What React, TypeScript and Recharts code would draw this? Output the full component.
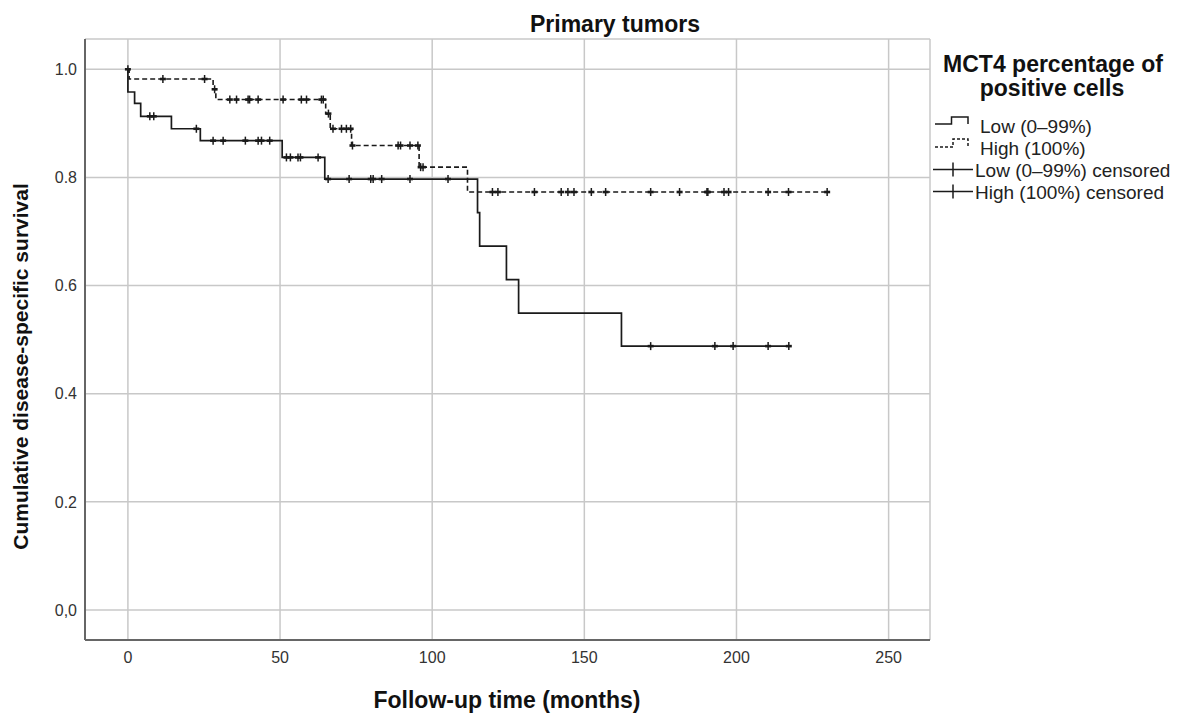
import React from 'react';
import { ComposedChart, Line, Scatter, XAxis, YAxis, CartesianGrid } from 'recharts';

// ---- Data ----
const lowStepTimes = [0, 0, 2.2, 4.2, 14.3, 23.8, 50.7, 64.7, 114.9, 115.6, 124.4, 128.4, 162.2, 217.2];
const lowStepSurvival = [1.0, 0.958, 0.937, 0.913, 0.89, 0.868, 0.837, 0.797, 0.735, 0.673, 0.611, 0.549, 0.488, 0.488];

const highStepTimes = [0, 0.4, 28.0, 28.9, 65.0, 66.5, 73.5, 95.7, 111.6, 229.8];
const highStepSurvival = [1.0, 0.982, 0.963, 0.944, 0.918, 0.89, 0.859, 0.819, 0.773, 0.773];

const lowCensorTimes = [7.2, 8.5, 22.5, 28.0, 31.3, 38.6, 42.8, 43.9, 46.6, 52.1, 53.4, 55.9, 56.7, 62.5, 65.8, 72.7, 79.8, 80.6, 83.4, 92.7, 105.2, 171.8, 192.9, 198.9, 210.4, 217.2];
const highCensorTimes = [0, 11.5, 25.2, 28.5, 33.5, 35.7, 39.5, 40.0, 42.8, 51.0, 57.0, 58.7, 63.6, 64.2, 65.9, 67.4, 70.2, 71.8, 73.2, 73.8, 88.8, 89.6, 92.7, 95.3, 96.2, 97.0, 119.8, 121.6, 133.6, 142.4, 144.6, 146.6, 152.3, 157.0, 171.8, 181.3, 190.3, 190.6, 195.9, 197.4, 210.4, 217.1, 229.8];

const xTicks = [0, 50, 100, 150, 200, 250];
const yTicks = [0, 0.2, 0.4, 0.6, 0.8, 1.0];

const chartTitle = 'Primary tumors';
const xTitle = 'Follow-up time (months)';
const yTitle = 'Cumulative disease-specific survival';
const legendTitleLines = ['MCT4 percentage of', 'positive cells'];
const legendLabels = ['Low (0\u201399%)', 'High (100%)', 'Low (0\u201399%) censored', 'High (100%) censored'];

// ---- Derived tables ----
const toSteps = (times: number[], surv: number[]) => times.map((t, i) => ({ t, s: surv[i] }));
const survivalAt = (times: number[], surv: number[], t: number) => {
  let v = surv[0];
  for (let i = 0; i < times.length; i++) {
    if (times[i] <= t) v = surv[i];
  }
  return v;
};
const lowData = toSteps(lowStepTimes, lowStepSurvival);
const highData = toSteps(highStepTimes, highStepSurvival);
const lowCensor = lowCensorTimes.map((t) => ({ t, s: survivalAt(lowStepTimes, lowStepSurvival, t) }));
const highCensor = highCensorTimes.map((t) => ({ t, s: survivalAt(highStepTimes, highStepSurvival, t) }));

const FONT = '"Liberation Sans", Arial, sans-serif';
const INK = '#1a1a1a';

const CensorMark = (props: any) => {
  const { cx, cy } = props;
  if (cx == null || cy == null) return <g />;
  return (
    <g>
      <line x1={cx} y1={cy - 4} x2={cx} y2={cy + 4} stroke={INK} strokeWidth={1.5} />
      <line x1={cx - 3} y1={cy} x2={cx + 3} y2={cy} stroke={INK} strokeWidth={2.6} />
    </g>
  );
};

const fmtY = (v: number) => (v === 0 ? '0,0' : v.toFixed(1));

export default function App() {
  return (
    <div style={{ position: 'absolute', left: 0, top: 0, width: 1177, height: 719, background: '#fff', fontFamily: FONT }}>
      <ComposedChart width={1177} height={719} margin={{ top: 39, right: 247, bottom: 4, left: 0 }}>
        <CartesianGrid stroke="#c8c8c8" strokeWidth={1.5} />
        <XAxis
          type="number"
          dataKey="t"
          domain={[-14.1, 263.6]}
          ticks={xTicks}
          interval={0}
          allowDataOverflow
          height={75}
          tickSize={0}
          tickMargin={12}
          tickLine={false}
          axisLine={{ stroke: '#666', strokeWidth: 2 }}
          tick={{ fill: '#333', fontSize: 16, fontFamily: FONT }}
        />
        <YAxis
          type="number"
          dataKey="s"
          domain={[-0.0555, 1.056]}
          ticks={yTicks}
          interval={0}
          allowDataOverflow
          width={85}
          tickSize={0}
          tickMargin={8}
          tickLine={false}
          tickFormatter={fmtY}
          axisLine={{ stroke: '#666', strokeWidth: 2 }}
          tick={{ fill: '#333', fontSize: 16, fontFamily: FONT }}
        />
        <Line data={lowData} dataKey="s" type="stepAfter" stroke={INK} strokeWidth={1.7} dot={false} activeDot={false} isAnimationActive={false} />
        <Line data={highData} dataKey="s" type="stepAfter" stroke={INK} strokeWidth={1.6} strokeDasharray="5 3" dot={false} activeDot={false} isAnimationActive={false} />
        <Scatter data={lowCensor} dataKey="s" shape={CensorMark} isAnimationActive={false} />
        <Scatter data={highCensor} dataKey="s" shape={CensorMark} isAnimationActive={false} />
      </ComposedChart>
      <svg width={1177} height={719} style={{ position: 'absolute', left: 0, top: 0, pointerEvents: 'none' }}>
        <text x={615} y={32} textAnchor="middle" fontSize={23} fontWeight="bold" fill="#111" fontFamily={FONT}>{chartTitle}</text>
        <text x={507} y={708} textAnchor="middle" fontSize={23} fontWeight="bold" fill="#111" fontFamily={FONT}>{xTitle}</text>
        <text x={28} y={366.5} textAnchor="middle" fontSize={21} fontWeight="bold" fill="#111" fontFamily={FONT} transform="rotate(-90 28 366.5)">{yTitle}</text>
        <text x={1053} y={72} textAnchor="middle" fontSize={23} fontWeight="bold" fill="#111" fontFamily={FONT}>{legendTitleLines[0]}</text>
        <text x={1052} y={96} textAnchor="middle" fontSize={23} fontWeight="bold" fill="#111" fontFamily={FONT}>{legendTitleLines[1]}</text>
        <path d="M935 124 H951.5 V117 H968 V124" fill="none" stroke={INK} strokeWidth={1.5} />
        <text x={980} y={133} fontSize={19} fill="#222" fontFamily={FONT}>{legendLabels[0]}</text>
        <path d="M935 147 H953 V139 H968 V146" fill="none" stroke={INK} strokeWidth={1.5} strokeDasharray="3 2" />
        <text x={980} y={155} fontSize={19} fill="#222" fontFamily={FONT}>{legendLabels[1]}</text>
        <line x1={933} y1={169.5} x2={973} y2={169.5} stroke={INK} strokeWidth={1.5} />
        <line x1={953} y1={162.5} x2={953} y2={176.5} stroke={INK} strokeWidth={1.5} />
        <text x={975} y={177} fontSize={19} fill="#222" fontFamily={FONT}>{legendLabels[2]}</text>
        <line x1={933} y1={191.5} x2={973} y2={191.5} stroke={INK} strokeWidth={1.5} />
        <line x1={953} y1={184.5} x2={953} y2={198.5} stroke={INK} strokeWidth={1.5} />
        <text x={975} y={199} fontSize={19} fill="#222" fontFamily={FONT}>{legendLabels[3]}</text>
      </svg>
    </div>
  );
}
